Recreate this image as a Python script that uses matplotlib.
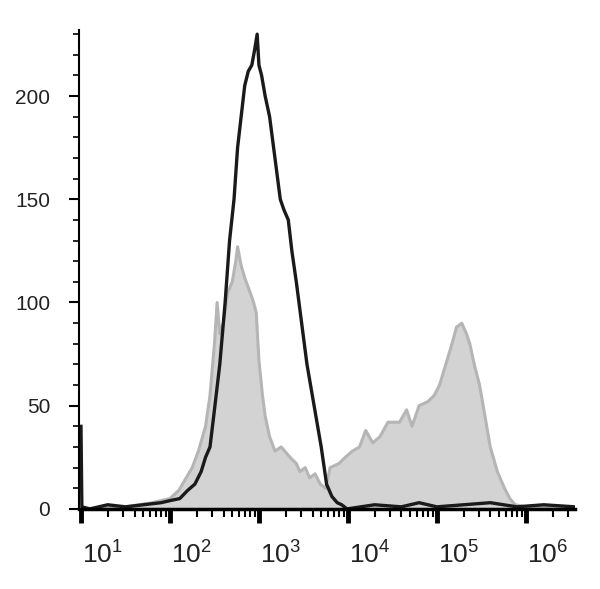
import numpy as np
import matplotlib.pyplot as plt
from matplotlib.ticker import LogLocator, MultipleLocator, NullFormatter
from matplotlib.transforms import blended_transform_factory

plt.rcParams["font.family"] = ["Liberation Sans", "DejaVu Sans"]

# === Data (log10 of fluorescence, event counts) ===
ctrl_log = [1.0, 1.5, 1.8, 2.0, 2.1, 2.25, 2.32, 2.4, 2.45, 2.5, 2.53, 2.56, 2.6, 2.65, 2.7,
            2.74, 2.76, 2.8, 2.84, 2.9, 2.94, 2.97, 3.0, 3.04, 3.07, 3.12, 3.18, 3.25, 3.35,
            3.42, 3.46, 3.52, 3.57, 3.63, 3.69, 3.75, 3.8, 3.9, 3.97, 4.05, 4.13, 4.2, 4.28,
            4.36, 4.45, 4.58, 4.66, 4.72, 4.8, 4.9, 4.97, 5.03, 5.1, 5.17, 5.22, 5.28, 5.33,
            5.37, 5.42, 5.48, 5.54, 5.6, 5.68, 5.76, 5.82, 5.88, 6.0, 6.2, 6.55]
ctrl_cnt = [0, 1, 3, 5, 9, 20, 28, 40, 55, 80, 100, 85, 90, 105, 110,
            120, 127, 118, 112, 105, 100, 95, 72, 55, 45, 35, 28, 30, 25,
            22, 18, 20, 15, 17, 12, 10, 20, 22, 25, 28, 30, 38, 32,
            35, 42, 42, 48, 40, 50, 52, 55, 60, 70, 80, 88, 90, 85,
            80, 70, 60, 45, 30, 18, 10, 5, 2, 1, 1, 0]

stain_log = [1.0, 1.01, 1.1, 1.3, 1.5, 1.7, 1.9, 2.0, 2.11, 2.2, 2.28, 2.35, 2.4, 2.45, 2.5,
             2.56, 2.62, 2.67, 2.72, 2.76, 2.8, 2.84, 2.88, 2.92, 2.95, 2.98, 3.0, 3.03,
             3.07, 3.12, 3.18, 3.24, 3.28, 3.33, 3.37, 3.42, 3.48, 3.54, 3.6, 3.66, 3.7,
             3.76, 3.82, 3.88, 3.93, 3.99, 4.3, 4.6, 4.8, 5.0, 5.3, 5.6, 5.9, 6.2, 6.55]
stain_cnt = [40, 1, 0, 2, 1, 2, 3, 4, 5, 9, 12, 18, 25, 30, 48,
             70, 100, 130, 150, 175, 190, 205, 212, 215, 222, 230, 215, 210,
             200, 190, 170, 150, 145, 140, 125, 110, 90, 70, 55, 40, 30,
             12, 6, 3, 2, 0, 2, 1, 3, 1, 2, 3, 1, 2, 1]

decades = [1, 2, 3, 4, 5, 6]

fig = plt.figure(figsize=(6, 5.89), dpi=100)
ax = fig.add_axes([0.132, 0.136, 0.826, 0.813])

cx = 10 ** np.array(ctrl_log)
sx = 10 ** np.array(stain_log)
ax.fill_between(cx, ctrl_cnt, color="#d3d3d3", linewidth=0)
ax.plot(cx, ctrl_cnt, color="#b5b5b8", linewidth=2.2)
ax.plot(sx, stain_cnt, color="#1a1a1a", linewidth=2.4)

ax.set_xscale("log")
ax.set_xlim(10 ** 0.98, 10 ** 6.55)
ax.set_ylim(0, 232)

for side in ["top", "right"]:
    ax.spines[side].set_visible(False)
ax.spines["left"].set_linewidth(1.5)
ax.spines["bottom"].set_linewidth(2.5)

ax.xaxis.set_major_locator(LogLocator(base=10, numticks=10))
ax.xaxis.set_minor_locator(LogLocator(base=10, subs=np.arange(2, 10), numticks=20))
ax.xaxis.set_major_formatter(NullFormatter())
ax.xaxis.set_minor_formatter(NullFormatter())
ax.tick_params(axis="x", which="major", length=10, width=3.5, direction="out")
ax.tick_params(axis="x", which="minor", length=6, width=1.5, direction="out")

ax.yaxis.set_major_locator(MultipleLocator(50))
ax.yaxis.set_minor_locator(MultipleLocator(10))
ax.tick_params(axis="y", which="major", length=7, width=1.5, labelsize=15,
               labelcolor="#222222", pad=14)
ax.tick_params(axis="y", which="minor", length=4, width=1.2)

trans = blended_transform_factory(ax.transData, fig.transFigure)
for d in decades:
    ax.text(10 ** (d + 0.24), 0.035, f"$\\mathregular{{10^{{{d}}}}}$", transform=trans,
            ha="center", va="bottom", fontsize=19, color="#222222")

fig.savefig("out.png", dpi=100)
